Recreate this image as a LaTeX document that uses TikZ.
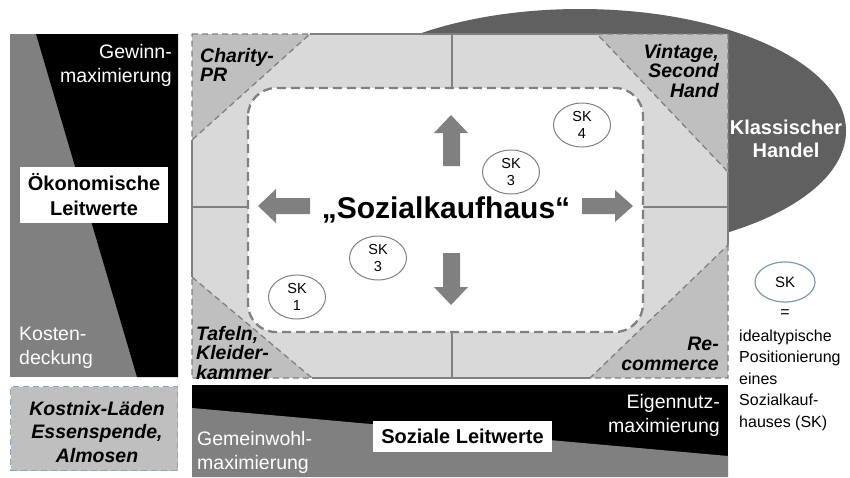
\documentclass[tikz,border=0pt]{standalone}
\usepackage{fontspec}
\setmainfont{Liberation Sans}
\usetikzlibrary{shapes.geometric}
\definecolor{darkell}{RGB}{96,96,96}
\definecolor{midgray}{RGB}{128,128,128}
\definecolor{lightfill}{RGB}{217,217,217}
\definecolor{cornerfill}{RGB}{191,191,191}
\definecolor{linegray}{RGB}{128,128,128}
\definecolor{tealgray}{RGB}{120,160,160}
\definecolor{boxdash}{RGB}{140,165,175}
\begin{document}
\begin{tikzpicture}[x=1pt,y=-1pt,
  whitelbl/.style={text=white, font=\fontsize{19.5}{24}\selectfont, inner sep=0},
  cornerlbl/.style={font=\fontsize{19.5}{19.5}\selectfont\bfseries\itshape, inner sep=0},
  titlebox/.style={fill=white, inner sep=0, font=\fontsize{20}{25}\selectfont\bfseries, align=center},
  skell/.style={ellipse, draw=linegray, line width=1pt, fill=white, minimum width=57, minimum height=44, inner sep=0, font=\fontsize{14.5}{17}\selectfont, align=center},
  cornertri/.style={fill=cornerfill, draw=linegray, line width=1.3pt, dash pattern=on 6pt off 4pt},
  divider/.style={draw=linegray, line width=1.5pt},
  blockarrow/.style={fill=midgray}
]
\useasboundingbox (0,0) rectangle (850,477);

% ---- Klassischer Handel ellipse
\node[ellipse, fill=darkell, minimum width=532, minimum height=244, inner sep=0] (handel) at (580,131) {};

% ---- left panel
\fill[midgray] (10,34) rectangle (178,377);
\fill[black] (36,34) -- (178,34) -- (178,377) -- (137,377) -- cycle;
\node[whitelbl, anchor=east, align=right] (gewinn) at (172,65) {Gewinn-\\maximierung};
\node[whitelbl, anchor=west, align=left] (kosten) at (19,348) {Kosten-\\deckung};
\node[titlebox, minimum width=148, minimum height=56] (oekon) at (94,195) {Ökonomische\\Leitwerte};

% ---- bottom-left box
\node[fill=cornerfill, draw=boxdash, line width=1.5pt, dash pattern=on 6pt off 4pt,
      minimum width=167, minimum height=84, inner sep=0] (kostnix) at (94,428.5) {};
\node[font=\fontsize{19.5}{23.5}\selectfont\bfseries\itshape, align=center, inner sep=0] (kostnixtxt) at (97,432) {Kostnix-Läden\\Essenspende,\\Almosen};

% ---- main rectangle
\fill[lightfill] (192,34) rectangle (728,378);
\draw[divider] (310,34) -- (597,34);
\draw[divider] (728,172) -- (728,245);
\draw[divider] (590,378) -- (312,378);
\draw[divider] (192,277) -- (192,140);
% dividers
\draw[divider] (452,34) -- (452,88);
\draw[divider] (452,332) -- (452,378);
\draw[divider] (192,207) -- (248,207);
\draw[divider] (643,207) -- (728,207);
% corner triangles
\draw[cornertri] (192,34) -- (310,34) -- (192,140) -- cycle;
\draw[cornertri] (597,34) -- (728,34) -- (728,172) -- cycle;
\draw[cornertri] (192,277) -- (312,378) -- (192,378) -- cycle;
\draw[cornertri] (728,245) -- (728,378) -- (590,378) -- cycle;
% inner rounded rect
\draw[fill=white, draw=linegray, line width=2.3pt, dash pattern=on 9pt off 5pt, rounded corners=28pt]
  (248,88) rectangle (643,332);

% corner labels
\node[cornerlbl, anchor=west, align=left] (charity) at (200,65) {Charity-\\PR};
\node[cornerlbl, anchor=east, align=right] (vintage) at (719,71) {Vintage,\\Second\\Hand};
\node[cornerlbl, anchor=west, align=left] (tafeln) at (196,353) {Tafeln,\\Kleider-\\kammer};
\node[cornerlbl, anchor=east, align=right] (recomm) at (719,354) {Re-\\commerce};

% ---- block arrows
\fill[blockarrow] (443,166) -- (443,133) -- (434,133) -- (451,115) -- (468,133) -- (460,133) -- (460,166) -- cycle;
\fill[blockarrow] (443,253) -- (443,287) -- (434,287) -- (451,305) -- (468,287) -- (460,287) -- (460,253) -- cycle;
\fill[blockarrow] (310,198) -- (276,198) -- (276,189) -- (258,206) -- (276,223) -- (276,214) -- (310,214) -- cycle;
\fill[blockarrow] (582,198) -- (615,198) -- (615,190) -- (633,206) -- (615,222) -- (615,214) -- (582,214) -- cycle;

% ---- central title
\node[font=\fontsize{30}{36}\selectfont\bfseries, inner sep=0] (sozial) at (446,210) {„Sozialkaufhaus“};

% ---- SK ellipses
\node[skell] (sk4) at (582,125) {SK\\4};
\node[skell] (sk3a) at (511,172) {SK\\3};
\node[skell] (sk3b) at (378,258) {SK\\3};
\node[skell] (sk1) at (297,297) {SK\\1};

% ---- Klassischer Handel text
\node[font=\fontsize{20}{23}\selectfont\bfseries, text=white, align=center, inner sep=0] (handeltxt) at (786,139) {Klassischer\\Handel};

% ---- legend
\node[ellipse, draw=tealgray, line width=1.2pt, fill=white, minimum width=60, minimum height=40, inner sep=0, font=\fontsize{15}{17}\selectfont] (legsk) at (785,282) {SK};
\node[font=\fontsize{16}{21}\selectfont, inner sep=0] (legeq) at (785,314) {=};
\node[font=\fontsize{16}{21.5}\selectfont, align=left, anchor=west, inner sep=0] (legtxt) at (739,380) {idealtypische\\Positionierung\\eines\\Sozialkauf-\\hauses (SK)};

% ---- bottom bar
\fill[black] (192,385) rectangle (728,477);
\fill[midgray] (192,408) -- (728,456) -- (728,477) -- (192,477) -- cycle;
\node[titlebox, minimum width=179, minimum height=31] (sozlw) at (462.5,436.5) {Soziale Leitwerte};
\node[whitelbl, anchor=east, align=right] (eigen) at (720,415) {Eigennutz-\\maximierung};
\node[whitelbl, anchor=west, align=left] (gemein) at (197,452) {Gemeinwohl-\\maximierung};
\end{tikzpicture}
\end{document}
